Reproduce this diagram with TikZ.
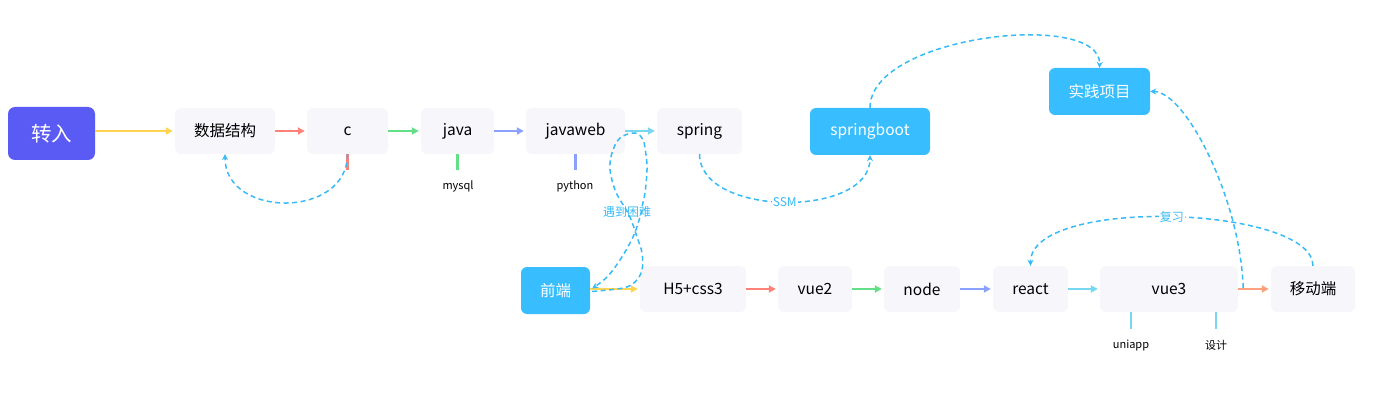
\documentclass[tikz,border=0pt]{standalone}
\usepackage{fontspec}
\setmainfont{Noto Sans CJK SC}
\usetikzlibrary{arrows.meta,calc}
\definecolor{boxbg}{RGB}{246,246,251}
\definecolor{hlc}{RGB}{56,190,254}
\definecolor{purp}{RGB}{90,90,245}
\definecolor{dashc}{RGB}{56,186,246}
\definecolor{cyel}{RGB}{255,212,80}
\definecolor{cred}{RGB}{255,130,120}
\definecolor{cgrn}{RGB}{100,222,135}
\definecolor{cper}{RGB}{140,160,255}
\definecolor{ccya}{RGB}{120,215,240}
\definecolor{corg}{RGB}{255,160,125}
\begin{document}
\begin{tikzpicture}[x=1pt,y=-1pt,
  box/.style={rounded corners=6pt, fill=boxbg, minimum height=46pt, inner sep=0pt,
    font=\fontsize{15.5}{18}\selectfont, text=black},
  hl/.style={box, fill=hlc, text=white},
  arr/.style={line width=2pt, shorten >=2pt, -{Triangle[length=7pt,width=7pt]}},
  dsh/.style={draw=dashc, line width=1.5pt, dash pattern=on 5pt off 3.5pt, -{Stealth[length=6pt,width=6pt]}},
  leg/.style={line width=2.5pt},
  sub/.style={font=\fontsize{11}{13}\selectfont, text=black, inner sep=0pt},
  lbl/.style={font=\fontsize{12}{14}\selectfont, text=dashc, inner sep=1pt}
]
\useasboundingbox (0,0) rectangle (1374,401);

% nodes
\node[hl, fill=purp, minimum width=87pt, minimum height=53pt, rounded corners=7pt,
      font=\fontsize{20.5}{24}\selectfont] (zr) at (51.5,133.5) {转入};
\node[box, minimum width=100pt] (sj) at (225,131) {数据结构};
\node[box, minimum width=81pt] (c) at (347.5,131) {c};
\node[box, minimum width=73pt] (java) at (457.5,131) {java};
\node[box, minimum width=99pt] (jw) at (575.5,131) {javaweb};
\node[box, minimum width=85pt] (sp) at (699.5,131) {spring};
\node[hl, minimum width=120pt, minimum height=47pt] (sb) at (870,131.5) {springboot};
\node[hl, minimum width=101pt, minimum height=47pt] (sx) at (1099.5,91.5) {实践项目};
\node[hl, minimum width=69pt, minimum height=47pt] (qd) at (555.5,290.5) {前端};
\node[box, minimum width=106pt] (h5) at (693,289) {H5+css3};
\node[box, minimum width=74pt] (v2) at (815,289) {vue2};
\node[box, minimum width=76pt] (nd) at (922,289) {node};
\node[box, minimum width=75pt] (re) at (1030.5,289) {react};
\node[box, minimum width=138pt] (v3) at (1169,289) {vue3};
\node[box, minimum width=84pt] (yd) at (1313,289) {移动端};

% solid arrows
\draw[arr, cyel] (sj.west -| zr.east) -- (sj.west);
\draw[arr, cred] (sj.east) -- (c.west);
\draw[arr, cgrn] (c.east) -- (java.west);
\draw[arr, cper] (java.east) -- (jw.west);
\draw[arr, ccya] (jw.east) -- (sp.west);
\draw[arr, cyel] (h5.west -| qd.east) -- (h5.west);
\draw[arr, cred] (h5.east) -- (v2.west);
\draw[arr, cgrn] (v2.east) -- (nd.west);
\draw[arr, cper] (nd.east) -- (re.west);
\draw[arr, ccya] (re.east) -- (v3.west);
\draw[arr, corg] (v3.east) -- (yd.west);

% children
\node[sub] (my) at (458,186) {mysql};
\node[sub] (py) at (575,186) {python};
\node[sub] (ua) at (1131,345) {uniapp};
\node[sub] (sjj) at (1216,345) {设计};
\draw[leg, cred] (c.south) -- ++(0,16);
\draw[leg, cgrn] (java.south) -- ++(0,16);
\draw[leg, cper] (jw.south) -- ++(0,16);
\draw[leg, ccya] (v3.south -| ua) -- ++(0,17);
\draw[leg, ccya] (v3.south -| sjj) -- ++(0,17);

% dashed connectors
\draw[dsh] (c.south) .. controls +(0,65) and +(0,64) .. (sj.south);
\draw[dsh] (sp.south) .. controls +(0,63) and +(0,63) .. node[lbl, fill=white, pos=0.5] {SSM} (sb.south);
\draw[dsh] (sb.north) .. controls +(0,-73) and +(2,-58) .. (sx.north);
\coordinate (v3o) at ($(v3.east)+(5,-1)$);
\draw[dsh] (v3o) .. controls +(-3,-90) and +(35,0) .. (sx.east);
\draw[dsh] (yd.north) .. controls +(0,-60) and +(0,-70) .. node[lbl, fill=white, pos=0.5] {复习} (re.north);
\coordinate (q1) at ($(qd.east)+(2,1)$);
\coordinate (q2) at ($(qd.east)+(2,-2)$);
\draw[dsh] plot[smooth, tension=0.6] coordinates {(q1) (623,288) (635,282) (642,270) (642,253) (637,237) (630,217) (622,203) (615,190) (610,170) (612,153) (620,138) (635,133) (643,140) (646,155) (647,170) (645,193) (642,207) (640,217) (633,237) (620,260) (607,277) (q2)};
\node[lbl] (yd2) at (627,212) {遇到困难};
\end{tikzpicture}
\end{document}
